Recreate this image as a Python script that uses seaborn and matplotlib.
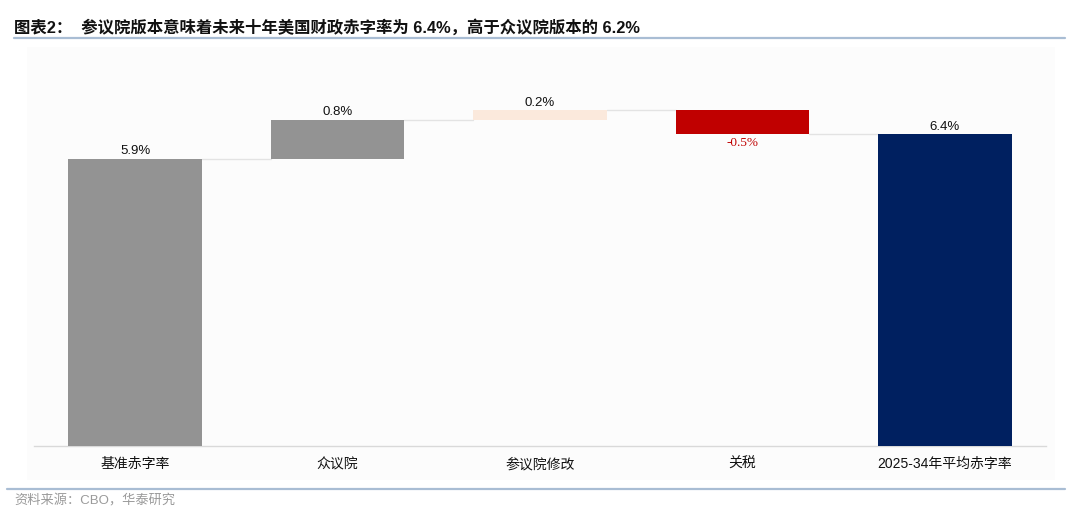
import seaborn as sns
import pandas as pd
import matplotlib.pyplot as plt
import numpy as np
from matplotlib.patches import Rectangle
from matplotlib.lines import Line2D

# --- waterfall: senate version deficit ---
categories = ['基准赤字率', '众议院', '参议院修改', '关税', '2025-34年平均赤字率']
changes = [5.9, 0.8, 0.2, -0.5, 6.4]
is_total = [True, False, False, False, True]
bar_colors = ['#939393', '#939393', '#fbe9dc', '#c00000', '#002060']
labels = ['5.9%', '0.8%', '0.2%', '-0.5%', '6.4%']

# build bottoms / heights from the changes
bottoms, heights, ends = [], [], []
level = 0.0
for v, tot in zip(changes, is_total):
    if tot:
        bottoms.append(0.0)
        heights.append(v)
        level = v
    else:
        new = level + v
        bottoms.append(min(level, new))
        heights.append(abs(v))
        level = new
    ends.append(level)

df = pd.DataFrame({'cat': categories, 'height': heights, 'bottom': bottoms})

sns.set_style('white')
plt.rcParams['font.family'] = ['Liberation Sans', 'Noto Sans CJK SC', 'DejaVu Sans']

fig = plt.figure(figsize=(10.8, 5.19), dpi=100)
# faint panel behind chart
fig.patches.append(Rectangle((27 / 1080, 1 - 480 / 519), 1028 / 1080, 433 / 519,
                             transform=fig.transFigure, facecolor='#fcfcfc',
                             edgecolor='none', zorder=-5))
ax = fig.add_axes([34 / 1080, 1 - 446 / 519, 1012 / 1080, 389.6 / 519])
ax.set_facecolor('none')

sns.barplot(data=df, x='cat', y='height', bottom=df['bottom'].values, ax=ax,
            width=0.66, color='#939393', saturation=1, zorder=3)
for p, c in zip(ax.patches, bar_colors):
    p.set_facecolor(c)
    p.set_edgecolor('none')

# connectors
for i in range(len(categories) - 1):
    ax.plot([i + 0.33, i + 1 - 0.33], [ends[i], ends[i]], color='#e3e3e3',
            lw=1.0, zorder=2)

# value labels
for i, (v, lab) in enumerate(zip(changes, labels)):
    top = bottoms[i] + heights[i]
    if v < 0:
        ax.text(i, bottoms[i] - 0.06, lab, ha='center', va='top', fontsize=9.5,
                color='#c00000', family=['Liberation Serif'])
    else:
        ax.text(i, top + 0.03, lab, ha='center', va='bottom', fontsize=9.5,
                color='#111111')

ax.set_ylim(0, 8)
ax.set_xlim(-0.5, 4.5)
ax.set_yticks([])
ax.set_xlabel('')
ax.set_ylabel('')
for s in ['top', 'right', 'left']:
    ax.spines[s].set_visible(False)
ax.spines['bottom'].set_color('#d9d9d9')
ax.spines['bottom'].set_linewidth(1.0)
ax.tick_params(axis='x', length=0, pad=8, labelsize=10, labelcolor='#111111')

# title, rules, source
fig.text(14 / 1080, 1 - 27 / 519,
         '图表2：  参议院版本意味着未来十年美国财政赤字率为 6.4%，高于众议院版本的 6.2%',
         fontsize=11.8, fontweight='bold', va='center', ha='left', color='#111111')
fig.add_artist(Line2D([14 / 1080, 1065 / 1080], [1 - 38 / 519, 1 - 38 / 519],
                      transform=fig.transFigure, color='#a9bdd4', lw=1.6))
fig.add_artist(Line2D([7 / 1080, 1065 / 1080], [1 - 489 / 519, 1 - 489 / 519],
                      transform=fig.transFigure, color='#a9bdd4', lw=1.6))
fig.text(14 / 1080, 1 - 501 / 519, '资料来源：CBO，华泰研究', fontsize=9.5,
         color='#9a9a9a', va='center', ha='left')

plt.savefig('out.png', dpi=100)
